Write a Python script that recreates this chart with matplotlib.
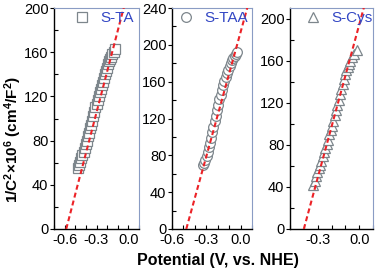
import numpy as np
import matplotlib
matplotlib.use("Agg")
from matplotlib import pyplot as plt
from matplotlib.ticker import MultipleLocator

plt.rcParams['font.family'] = ['Liberation Sans', 'DejaVu Sans']
plt.rcParams['mathtext.fontset'] = 'custom'
plt.rcParams['mathtext.rm'] = 'Liberation Sans:bold'
plt.rcParams['mathtext.it'] = 'Liberation Sans:bold'
plt.rcParams['mathtext.bf'] = 'Liberation Sans:bold'

# S-TA (squares)
ta_x = [-0.470, -0.463, -0.455, -0.445, -0.433, -0.420, -0.410, -0.400, -0.390, -0.380,
        -0.370, -0.360, -0.350, -0.340, -0.330, -0.320, -0.310, -0.300, -0.290, -0.280,
        -0.270, -0.260, -0.250, -0.240, -0.230, -0.220, -0.210, -0.200, -0.190, -0.180,
        -0.170, -0.160, -0.150, -0.140, -0.125]
ta_y = [55, 58, 61, 64, 67, 70, 73, 77, 80, 84,
        87, 91, 94, 98, 102, 106, 110, 113, 117, 120,
        124, 127, 130, 133, 137, 140, 143, 146, 149, 152,
        154, 156, 158, 160, 163]

# S-TAA (circles)
taa_x = [-0.331, -0.320, -0.308, -0.296, -0.285, -0.275, -0.267, -0.258, -0.248, -0.238,
         -0.228, -0.218, -0.208, -0.197, -0.186, -0.175, -0.164, -0.153, -0.142, -0.131,
         -0.120, -0.108, -0.096, -0.085, -0.074, -0.062, -0.050, -0.038, -0.027]
taa_y = [69, 72, 75, 79, 84, 89, 93, 99, 105, 111,
         117, 123, 129, 135, 141, 146, 151, 156, 161, 165,
         169, 173, 177, 180, 183, 186, 188, 190, 192]

# S-Cys (triangles)
cys_x = [-0.331, -0.322, -0.312, -0.302, -0.292, -0.283, -0.273, -0.263, -0.254, -0.244,
         -0.234, -0.224, -0.215, -0.205, -0.196, -0.186, -0.176, -0.166, -0.157, -0.148,
         -0.138, -0.128, -0.119, -0.110, -0.101, -0.092, -0.083, -0.074, -0.065, -0.050,
         -0.035, -0.017]
cys_y = [42, 46, 50, 54, 58, 61, 65, 69, 73, 77,
         81, 85, 90, 94, 98, 103, 108, 113, 118, 123,
         128, 133, 138, 143, 147, 151, 154, 157, 160, 163,
         166, 170]

# linear fits: (x at y=0, slope)
fits = [(-0.585, 370), (-0.475, 450), (-0.400, 485)]

series = [(ta_x, ta_y, 's', 'S-TA'), (taa_x, taa_y, 'o', 'S-TAA'), (cys_x, cys_y, '^', 'S-Cys')]
xlims = [(-0.7, 0.1), (-0.6, 0.1), (-0.5, 0.1)]
ylims = [(0, 200), (0, 240), (0, 210)]
xticks = [[-0.6, -0.3, 0.0], [-0.6, -0.3, 0.0], [-0.3, 0.0]]
leg_x = [0.24, 0.08, 0.18]

W, H = 377, 273
boxes = [(54, 139), (172, 252), (290, 373)]
top, bottom = 8, 229

fig = plt.figure(figsize=(W / 100, H / 100), dpi=100)
for i, (px0, px1) in enumerate(boxes):
    ax = fig.add_axes([px0 / W, (H - bottom) / H, (px1 - px0) / W, (bottom - top) / H])
    x, y, m, lab = series[i]
    ax.plot(x, y, m, ls='none', ms=7 if m != 's' else 6.5, mfc='white', mec='#7d868c',
            mew=0.9, label=lab, zorder=2)
    x0, k = fits[i]
    xx = np.array([x0, x0 + ylims[i][1] * 1.05 / k])
    ax.plot(xx, k * (xx - x0), color='#ec2227', lw=1.5, ls=(0, (2.4, 1.5)), zorder=3)
    ax.set_xlim(*xlims[i])
    ax.set_ylim(*ylims[i])
    ax.set_xticks(xticks[i])
    ax.set_xticklabels(['%.1f' % t for t in xticks[i]])
    ax.xaxis.set_minor_locator(MultipleLocator(0.1))
    ax.yaxis.set_major_locator(MultipleLocator(40))
    ax.yaxis.set_minor_locator(MultipleLocator(20))
    ax.tick_params(axis='x', which='both', direction='in', length=3, width=0.8,
                   labelsize=10.5, pad=3, top=False)
    ax.tick_params(axis='y', which='major', direction='out', length=3, width=0.8,
                   labelsize=10.5, pad=1, right=False)
    ax.tick_params(axis='y', which='minor', direction='in', length=3, width=0.8, right=False)
    for s in ['top', 'right']:
        ax.spines[s].set_color('#8a9cc4')
        ax.spines[s].set_linewidth(0.8)
    for s in ['left', 'bottom']:
        ax.spines[s].set_linewidth(1.0)
    ax.legend(loc='upper left', bbox_to_anchor=(leg_x[i], 0.985), frameon=False,
              numpoints=1, handlelength=1.0, handletextpad=0.7, borderpad=0,
              borderaxespad=0, fontsize=11, labelcolor='#3347c4')

fig.text(13 / W, 1 - 140 / H, r'1/C$^{2}$$\times$10$^{6}$ (cm$^{4}$/F$^{2}$)',
         rotation=90, ha='center', va='center', fontsize=11, fontweight='bold')
fig.text(218 / W, 1 - 260 / H, 'Potential (V, vs. NHE)', ha='center', va='center',
         fontsize=11.5, fontweight='bold')

fig.savefig('out.png', dpi=100)
